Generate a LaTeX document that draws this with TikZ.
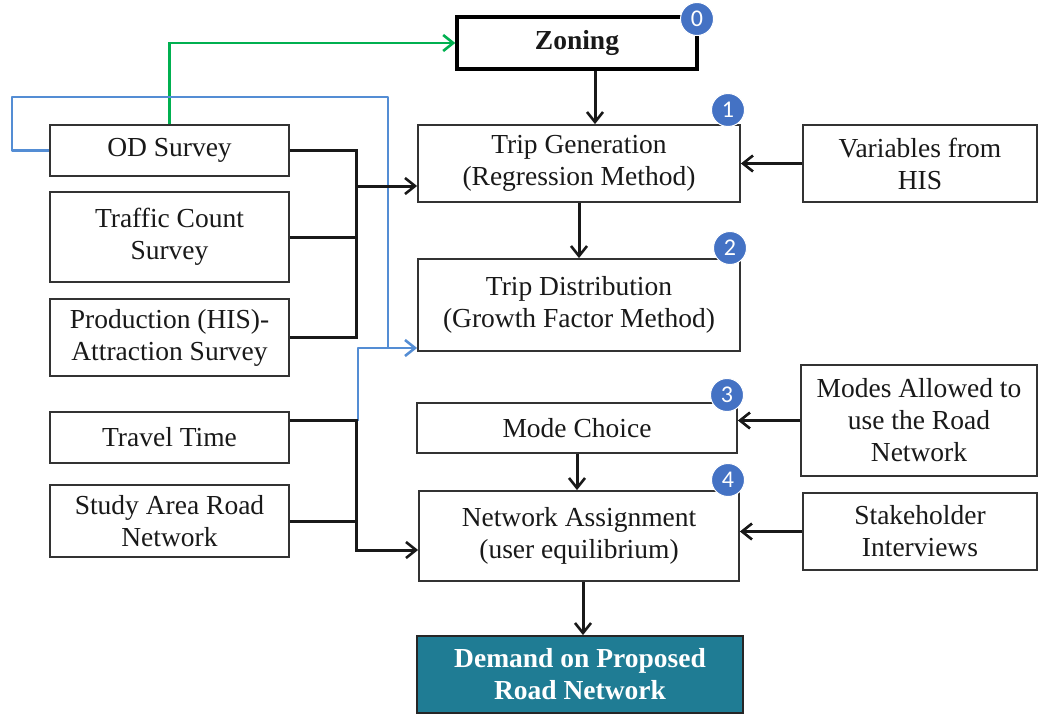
\documentclass[tikz,border=0pt]{standalone}
\usepackage{fontspec}
\setmainfont{Liberation Serif}
\newfontfamily\numfont{Carlito}
\usetikzlibrary{arrows.meta,calc}
\definecolor{blueline}{RGB}{84,141,212}
\definecolor{greenline}{RGB}{0,176,80}
\definecolor{demandfill}{RGB}{31,124,148}
\definecolor{badgeblue}{RGB}{68,114,196}
\begin{document}
\begin{tikzpicture}[x=1pt,y=-1pt,
  box/.style={draw=black!80, line width=1.8pt, fill=white, align=center,
    font=\fontsize{27.5}{32}\selectfont, inner sep=0pt, text=black!90},
  wire/.style={line width=3pt, draw=black!90},
  conn/.style={wire, -{Straight Barb[length=10pt,width=16pt,line width=2.6pt]}},
  bwire/.style={line width=2.6pt, draw=blueline},
  bconn/.style={bwire, -{Straight Barb[length=10pt,width=16pt]}},
  gconn/.style={line width=2.6pt, draw=greenline, -{Straight Barb[length=10pt,width=16pt]}},
  badge/.style={circle, fill=badgeblue, draw=white, line width=1pt, minimum size=33pt,
    inner sep=0pt, text=white, font=\numfont\fontsize{24}{24}\selectfont}]
\useasboundingbox (0,0) rectangle (1039,717);

% centre column
\node[box, minimum width=240pt, minimum height=52pt, line width=3.5pt, draw=black] (zon) at (577,43) {\textbf{Zoning}};
\node[box, minimum width=322pt, minimum height=77pt] (tg) at (579,163.5) {Trip Generation\\(Regression Method)};
\node[box, minimum width=322pt, minimum height=92pt] (td) at (579,305) {Trip Distribution\\(Growth Factor Method)};
\node[box, minimum width=320pt, minimum height=50pt] (mc) at (577,428) {Mode Choice};
\node[box, minimum width=320pt, minimum height=90pt] (na) at (579,536) {Network Assignment\\(user equilibrium)};
\node[box, minimum width=326pt, minimum height=77pt, fill=demandfill, draw=black!85, text=white] (dem) at (580,674.5) {\textbf{Demand on Proposed}\\\textbf{Road Network}};

% left column
\node[box, minimum width=239pt, minimum height=51pt] (od) at (169.5,150.5) {OD Survey};
\node[box, minimum width=239pt, minimum height=90pt] (tc) at (169.5,237) {Traffic Count\\Survey};
\node[box, minimum width=239pt, minimum height=77pt] (pa) at (169.5,337.5) {Production (HIS)-\\Attraction Survey};
\node[box, minimum width=239pt, minimum height=51pt] (tt) at (169.5,437.5) {Travel Time};
\node[box, minimum width=239pt, minimum height=72pt] (sa) at (169.5,521) {Study Area Road\\Network};

% right column
\node[box, minimum width=234pt, minimum height=77pt] (var) at (920,163.5) {Variables from\\HIS};
\node[box, minimum width=236pt, minimum height=111pt] (mod) at (919,420.5) {Modes Allowed to\\use the Road\\Network};
\node[box, minimum width=234pt, minimum height=77pt] (sth) at (920,531.5) {Stakeholder\\Interviews};

% helper coordinates
\coordinate (x1) at (356,0);
\coordinate (ttout) at ($(tt.north east)+(0,9)$);
\coordinate (bt) at (358,421);
\coordinate (bj) at (388,348);
\coordinate (zx) at (595,0);
\coordinate (nx) at (583,0);

% green
\draw[gconn] (od.north) |- (zon.west);
% blue
\draw[bwire, line join=round] (od.west) -- (12,150.5) -- (12,97) -- (388,97) -- (bj);
\draw[bconn, line join=round] (bt) -- (358,348) -- (td.west |- bj);

% black bus 1
\draw[wire] (od.east) -| (x1 |- pa.east) -- (pa.east);
\draw[wire] (tc.east) -- (tc.east -| x1);
\draw[conn] (x1 |- 0,186) -- (tg.west |- 0,186);
% black bus 2
\draw[conn] (ttout) -| (x1 |- 0,550) -- (na.west |- 0,550);
\draw[wire] (sa.east) -- (sa.east -| x1);

% vertical flow
\draw[conn] (zon.south -| zx) -- (tg.north -| zx);
\draw[conn] (tg.south) -- (td.north);
\draw[conn] (mc.south) -- (na.north -| mc.south);
\draw[conn] (na.south -| nx) -- (dem.north -| nx);

% right inputs
\draw[conn] (var.west) -- (tg.east |- var.west);
\draw[conn] (mod.west) -- (mc.east |- mod.west);
\draw[conn] (sth.west) -- (na.east |- sth.west);

% badges
\node[badge] (b0) at (697,19) {0};
\node[badge] (b1) at (728,110) {1};
\node[badge] (b2) at (730,248) {2};
\node[badge] (b3) at (727,395) {3};
\node[badge] (b4) at (728,480) {4};
\end{tikzpicture}
\end{document}
